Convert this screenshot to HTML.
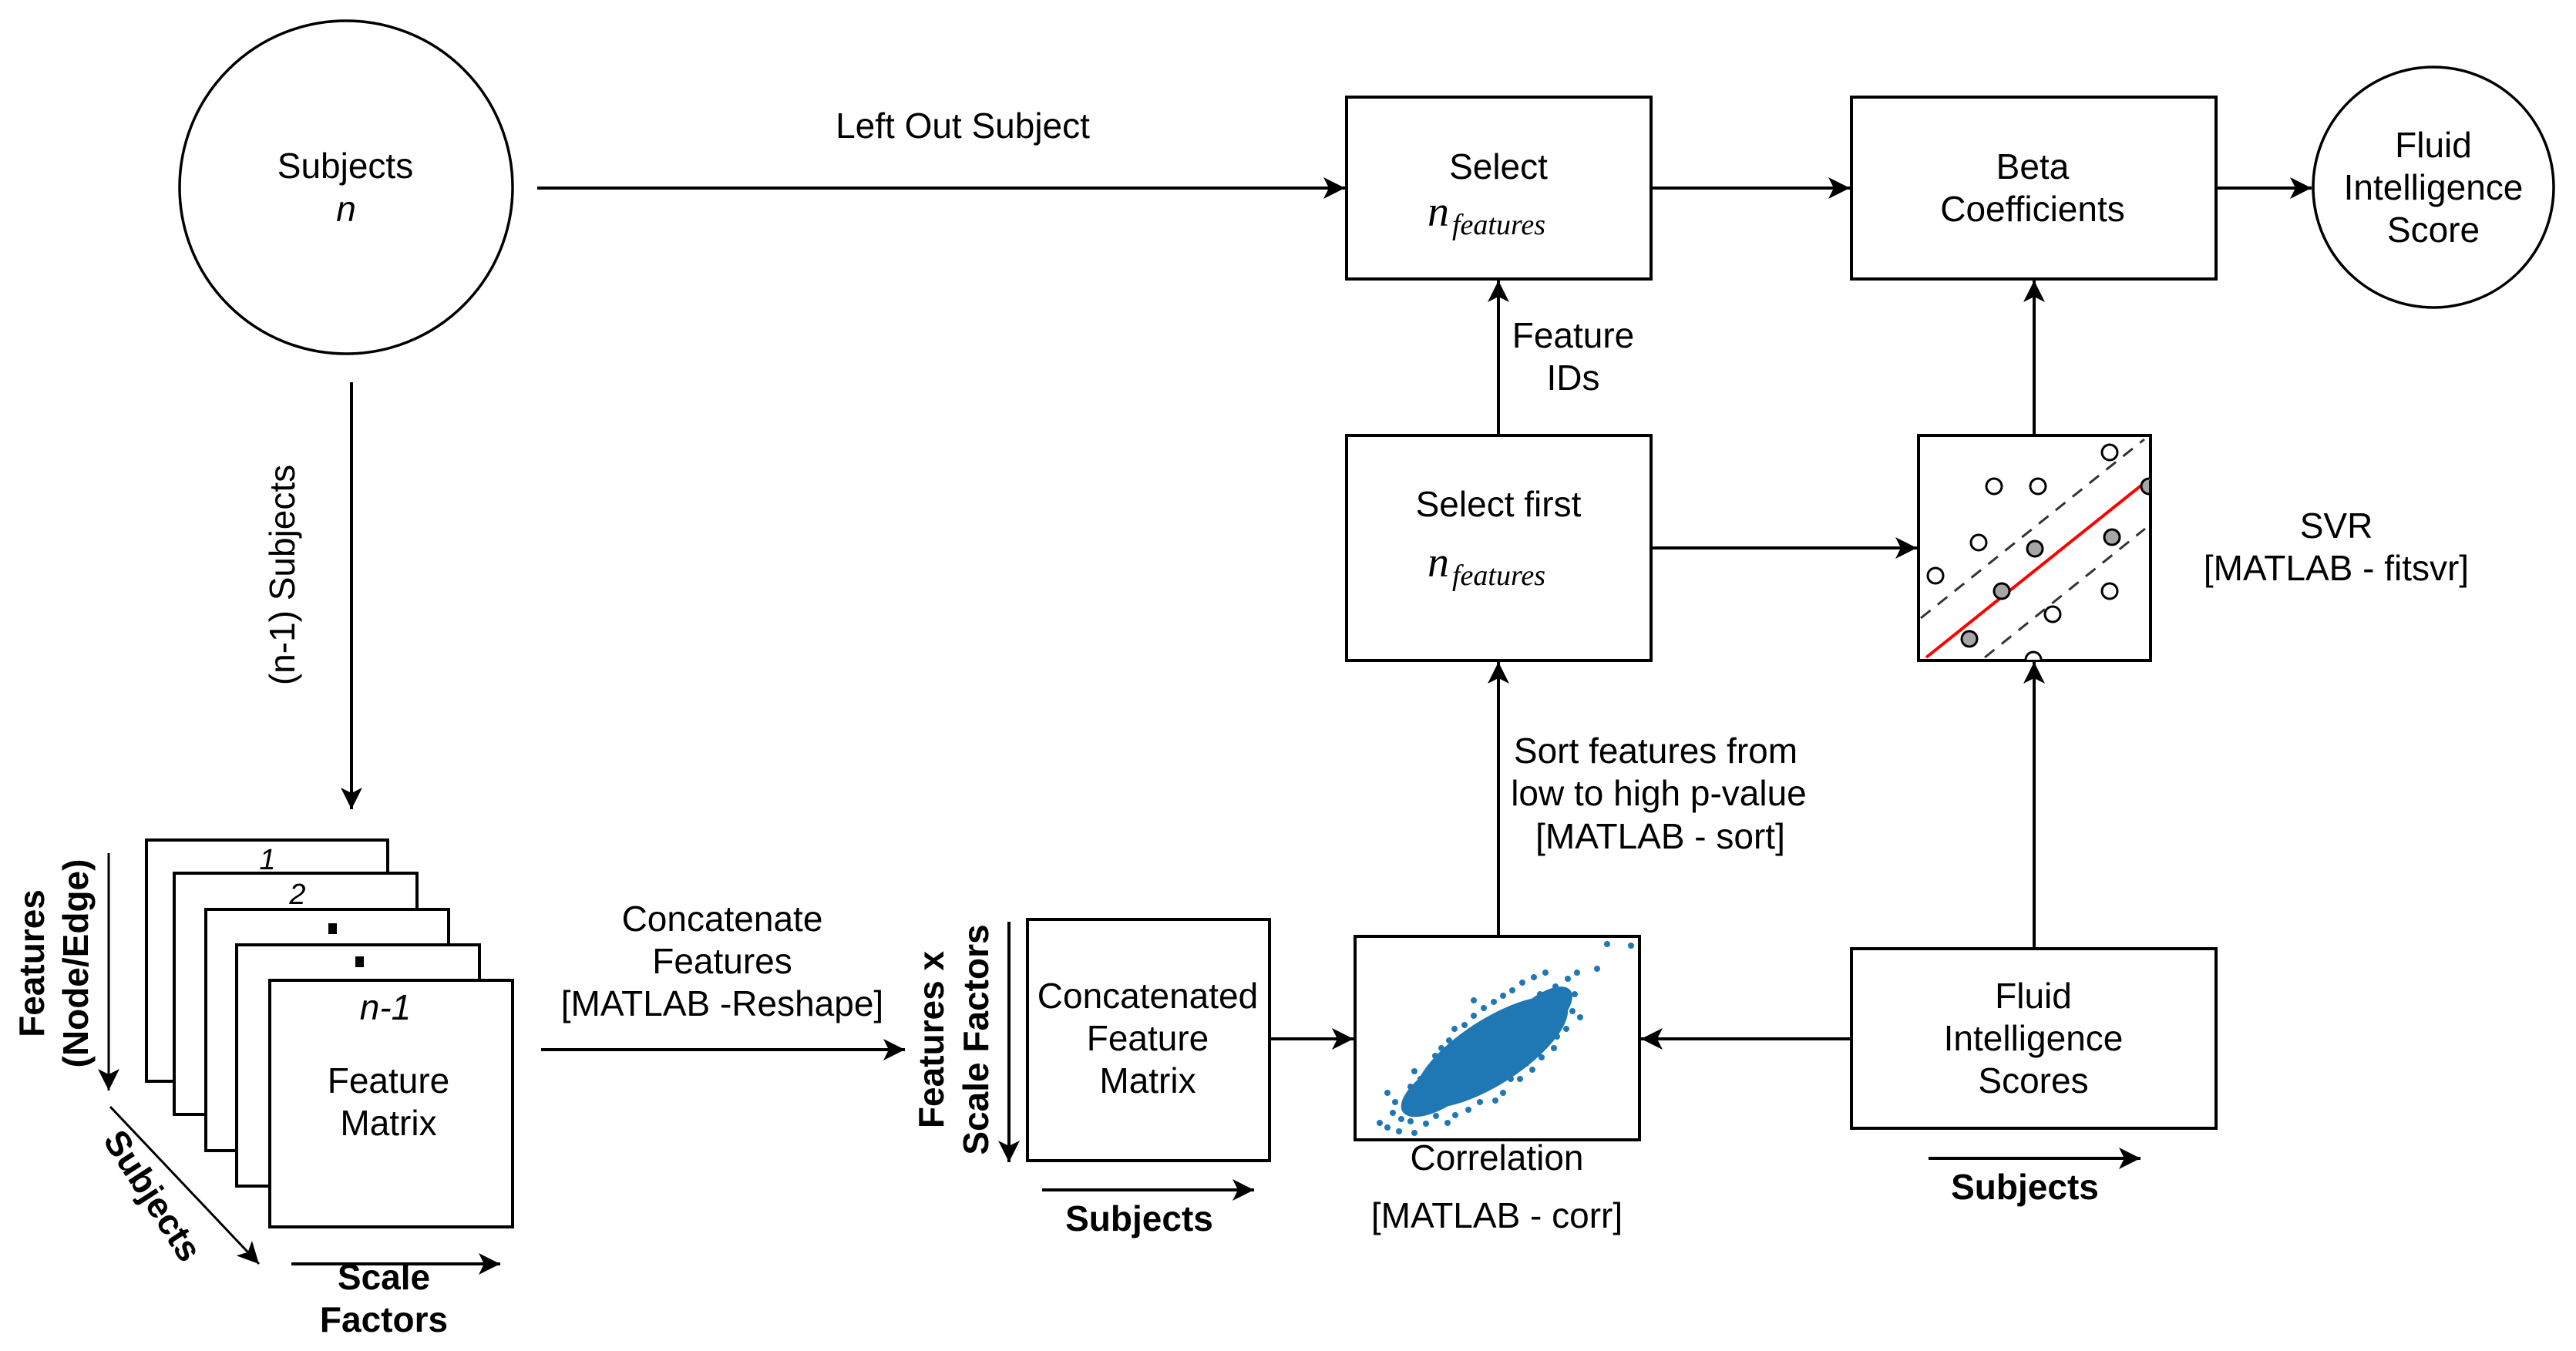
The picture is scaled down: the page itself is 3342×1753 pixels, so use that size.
<!DOCTYPE html>
<html><head><meta charset="utf-8"><style>
html,body{margin:0;padding:0;background:#fff;}
svg{display:block;}
text{font-family:"Liberation Sans",Arial,sans-serif;fill:#000;}
.b{font-weight:bold;}
.m{font-family:"Liberation Serif","DejaVu Serif",serif;font-style:italic;}
</style></head><body>
<svg width="3342" height="1753" viewBox="0 0 3342 1753" xmlns="http://www.w3.org/2000/svg" font-size="46">
<defs>
<marker id="a" markerWidth="40" markerHeight="40" refX="28" refY="14" orient="auto" markerUnits="userSpaceOnUse">
<path d="M0,0 L28,14 L0,28 L7,14 Z" fill="#000"/>
</marker>
</defs>
<g stroke="#000" stroke-width="4" fill="none">
<circle cx="449" cy="243" r="216" stroke-width="3.5"/>
<circle cx="3157" cy="243" r="156" stroke-width="3.5"/>
<rect x="1747" y="126" width="395" height="236"/>
<rect x="2402" y="126" width="473" height="236"/>
<rect x="1747" y="565" width="395" height="292"/>
<rect x="2489" y="565" width="301" height="292"/>
<rect x="1758" y="1215" width="369" height="264"/>
<rect x="2402" y="1231" width="473" height="233"/>
<rect x="1333" y="1193" width="314" height="313"/>
<rect x="190" y="1090" width="313" height="313" fill="#fff"/>
<rect x="226" y="1133" width="315" height="313" fill="#fff"/>
<rect x="267" y="1180" width="315" height="313" fill="#fff"/>
<rect x="307" y="1226" width="315" height="313" fill="#fff"/>
<rect x="350" y="1272" width="315" height="320" fill="#fff"/>
</g>
<g stroke="#000" stroke-width="4" fill="none" marker-end="url(#a)">
<line x1="697" y1="244" x2="1745" y2="244"/>
<line x1="2142" y1="244" x2="2400" y2="244"/>
<line x1="2875" y1="244" x2="2999" y2="244"/>
<line x1="1944" y1="565" x2="1944" y2="364"/>
<line x1="2142" y1="711" x2="2487" y2="711"/>
<line x1="2639" y1="565" x2="2639" y2="364"/>
<line x1="1944" y1="1215" x2="1944" y2="859"/>
<line x1="2639" y1="1231" x2="2639" y2="859"/>
<line x1="1647" y1="1348" x2="1756" y2="1348"/>
<line x1="2402" y1="1348" x2="2129" y2="1348"/>
<line x1="456" y1="496" x2="456" y2="1050"/>
<line x1="702" y1="1362" x2="1174" y2="1362"/>
<line x1="141" y1="1107" x2="141" y2="1415" stroke-width="3"/>
<line x1="143" y1="1436" x2="336" y2="1640" stroke-width="3"/>
<line x1="378" y1="1640" x2="649" y2="1640"/>
<line x1="1309" y1="1196" x2="1309" y2="1508"/>
<line x1="1352" y1="1544" x2="1627" y2="1544"/>
<line x1="2502" y1="1503" x2="2777" y2="1503"/>
</g>
<g>
<line x1="2499" y1="853" x2="2789" y2="621" stroke="#f00" stroke-width="4"/>
<line x1="2492" y1="802" x2="2782" y2="570" stroke="#333" stroke-width="3" stroke-dasharray="16,12"/>
<line x1="2575" y1="853" x2="2783" y2="686" stroke="#333" stroke-width="3" stroke-dasharray="16,12"/>
<g stroke="#000" stroke-width="3" fill="#fff">
<circle cx="2737" cy="587" r="10"/><circle cx="2587" cy="631" r="10"/><circle cx="2644" cy="631" r="10"/>
<circle cx="2567" cy="704" r="10"/><circle cx="2511" cy="747" r="10"/><circle cx="2737" cy="767" r="10"/>
<circle cx="2663" cy="797" r="10"/>
<path d="M2628,856 A10,10 0 0 1 2648,856"/>
</g>
<g stroke="#000" stroke-width="3" fill="#a6a6a6">
<circle cx="2640" cy="712" r="10"/><circle cx="2597" cy="767" r="10"/><circle cx="2740" cy="697" r="10"/>
<circle cx="2555" cy="829" r="10"/><path d="M2788,621 A10,10 0 0 0 2788,641"/>
</g>
</g>
<g fill="#1f77b4">
<ellipse cx="1935" cy="1365" rx="115" ry="42" transform="rotate(-33 1935 1365)"/>
<ellipse cx="1870" cy="1410" rx="60" ry="26" transform="rotate(-33 1870 1410)"/>
<ellipse cx="1995" cy="1320" rx="55" ry="24" transform="rotate(-40 1995 1320)"/>
<circle cx="2085" cy="1225" r="4"/><circle cx="2116" cy="1227" r="4"/><circle cx="2072" cy="1257" r="4"/>
<circle cx="2046" cy="1262" r="4"/><circle cx="2034" cy="1270" r="4"/><circle cx="2043" cy="1290" r="4"/>
<circle cx="2040" cy="1312" r="4"/><circle cx="2050" cy="1320" r="4"/><circle cx="2032" cy="1335" r="4"/>
<circle cx="2020" cy="1345" r="4"/><circle cx="2016" cy="1360" r="4"/><circle cx="2000" cy="1372" r="4"/>
<circle cx="1988" cy="1388" r="4"/><circle cx="1972" cy="1400" r="4"/><circle cx="1950" cy="1418" r="4"/>
<circle cx="1940" cy="1428" r="4"/><circle cx="1920" cy="1430" r="4"/><circle cx="1905" cy="1440" r="4"/>
<circle cx="1888" cy="1447" r="4"/><circle cx="1878" cy="1457" r="4"/><circle cx="1863" cy="1448" r="4"/>
<circle cx="1850" cy="1458" r="4"/><circle cx="1835" cy="1470" r="4"/><circle cx="1815" cy="1468" r="4"/>
<circle cx="1800" cy="1463" r="4"/><circle cx="1790" cy="1457" r="4"/><circle cx="1807" cy="1444" r="4"/>
<circle cx="1818" cy="1452" r="4"/><circle cx="1810" cy="1430" r="4"/><circle cx="1825" cy="1425" r="4"/>
<circle cx="1800" cy="1418" r="4"/><circle cx="1830" cy="1410" r="4"/><circle cx="1843" cy="1400" r="4"/>
<circle cx="1835" cy="1390" r="4"/><circle cx="1855" cy="1385" r="4"/><circle cx="1862" cy="1370" r="4"/>
<circle cx="1870" cy="1360" r="4"/><circle cx="1880" cy="1350" r="4"/><circle cx="1887" cy="1335" r="4"/>
<circle cx="1900" cy="1330" r="4"/><circle cx="1912" cy="1318" r="4"/><circle cx="1925" cy="1308" r="4"/>
<circle cx="1912" cy="1298" r="4"/><circle cx="1938" cy="1300" r="4"/><circle cx="1950" cy="1292" r="4"/>
<circle cx="1962" cy="1285" r="4"/><circle cx="1975" cy="1275" r="4"/><circle cx="1990" cy="1268" r="4"/>
<circle cx="2005" cy="1262" r="4"/><circle cx="2018" cy="1280" r="4"/><circle cx="1998" cy="1290" r="4"/>
<circle cx="1860" cy="1420" r="4"/><circle cx="1870" cy="1435" r="4"/><circle cx="1895" cy="1425" r="4"/>
<circle cx="1960" cy="1400" r="4"/><circle cx="1980" cy="1380" r="4"/><circle cx="2010" cy="1350" r="4"/>
<circle cx="1845" cy="1440" r="4"/><circle cx="1830" cy="1455" r="4"/><circle cx="1870" cy="1395" r="4"/>
</g>
<rect x="426" y="1198" width="11" height="14"/>
<rect x="461" y="1241" width="11" height="14"/>
<g text-anchor="middle">
<text x="347" y="1128" font-style="italic" style="font-size:38px">1</text>
<text x="386" y="1173" font-style="italic" style="font-size:38px">2</text>
<text x="500" y="1323" font-style="italic">n-1</text>
<text x="504" y="1418">Feature</text>
<text x="504" y="1473">Matrix</text>
<text x="448" y="231">Subjects</text>
<text x="449" y="287" font-style="italic">n</text>
<text x="1249" y="179">Left Out Subject</text>
<text x="1944" y="232">Select</text>
<text x="1944" y="670">Select first</text>
<text x="2637" y="232">Beta</text>
<text x="2637" y="287">Coefficients</text>
<text x="3157" y="204">Fluid</text>
<text x="3157" y="259">Intelligence</text>
<text x="3157" y="314">Score</text>
<text x="2041" y="451">Feature</text>
<text x="2041" y="506">IDs</text>
<text x="3031" y="698">SVR</text>
<text x="3031" y="753">[MATLAB - fitsvr]</text>
<text x="2148" y="990">Sort features from</text>
<text x="2152" y="1045">low to high p-value</text>
<text x="2154" y="1101">[MATLAB - sort]</text>
<text x="1942" y="1518">Correlation</text>
<text x="1942" y="1593">[MATLAB - corr]</text>
<text x="1489" y="1308">Concatenated</text>
<text x="1489" y="1363">Feature</text>
<text x="1489" y="1418">Matrix</text>
<text x="2638" y="1308">Fluid</text>
<text x="2638" y="1363">Intelligence</text>
<text x="2638" y="1418">Scores</text>
<text x="937" y="1208">Concatenate</text>
<text x="937" y="1263">Features</text>
<text x="937" y="1318">[MATLAB -Reshape]</text>
<text class="b" x="1478" y="1597">Subjects</text>
<text class="b" x="2627" y="1556">Subjects</text>
<text class="b" x="498" y="1673">Scale</text>
<text class="b" x="498" y="1728">Factors</text>
<text x="0" y="0" transform="translate(382,746) rotate(-90)">(n-1) Subjects</text>
<text class="b" x="0" y="0" transform="translate(57,1250) rotate(-90)">Features</text>
<text class="b" x="0" y="0" transform="translate(114,1250) rotate(-90)">(Node/Edge)</text>
<text class="b" x="0" y="0" transform="translate(1224,1349) rotate(-90)">Features x</text>
<text class="b" x="0" y="0" transform="translate(1282,1349) rotate(-90)">Scale Factors</text>
<text class="b" x="0" y="0" transform="translate(185,1560) rotate(57)">Subjects</text>
</g>
<g>
<text class="m" x="1852" y="293" style="font-size:56px">n</text><text class="m" x="1884" y="304" style="font-size:38px">features</text>
<text class="m" x="1852" y="748" style="font-size:56px">n</text><text class="m" x="1884" y="759" style="font-size:38px">features</text>
</g>
</svg>
</body></html>
